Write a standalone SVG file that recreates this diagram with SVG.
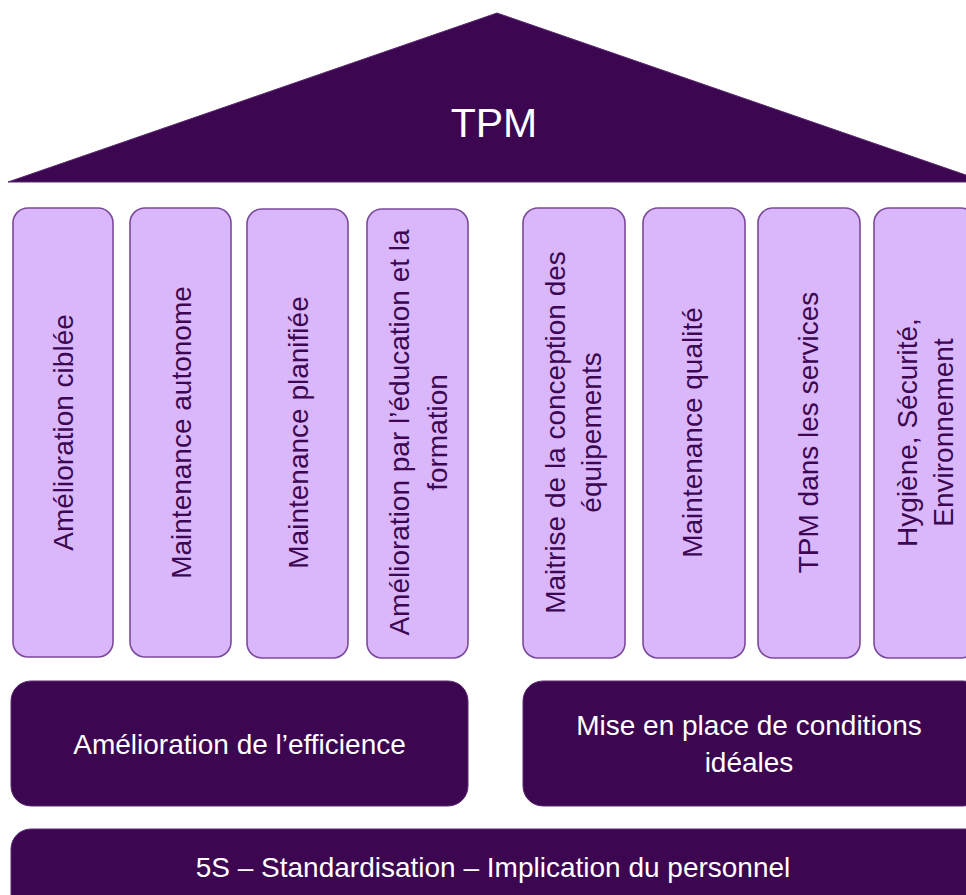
<svg xmlns="http://www.w3.org/2000/svg" width="966" height="895" viewBox="0 0 966 895">
<style>
.dark{fill:#3d0651;stroke:#5b2a72;stroke-width:1}
.pil{fill:#dab6fb;stroke:#7c4a9c;stroke-width:1.6}
.pt{font-family:"Liberation Sans",Arial,sans-serif;font-size:28px;fill:#3d0651;text-anchor:middle}
.wt{font-family:"Liberation Sans",Arial,sans-serif;font-size:28px;fill:#ffffff;text-anchor:middle}
</style>
<rect width="966" height="895" fill="#ffffff"/>
<g id="roof">
<polygon class="dark" points="8,182 497,13 986,182"/>
<text class="wt" x="494" y="137" style="font-size:41px">TPM</text>
</g>
<g id="p1">
<rect class="pil" x="13" y="208" width="100" height="449" rx="15"/>
<text class="pt" transform="translate(73,432.5) rotate(-90)">Amélioration ciblée</text>
</g>
<g id="p2">
<rect class="pil" x="130" y="208" width="101" height="449" rx="15"/>
<text class="pt" transform="translate(190.5,432.5) rotate(-90)">Maintenance autonome</text>
</g>
<g id="p3">
<rect class="pil" x="247" y="209" width="101" height="449" rx="15"/>
<text class="pt" transform="translate(307.5,432.5) rotate(-90)">Maintenance planifiée</text>
</g>
<g id="p4">
<rect class="pil" x="367" y="209" width="101" height="449" rx="15"/>
<text class="pt" transform="translate(409,432.5) rotate(-90)">Amélioration par l’éducation et la</text>
<text class="pt" transform="translate(447,432.5) rotate(-90)">formation</text>
</g>
<g id="p5">
<rect class="pil" x="523" y="208" width="102" height="450" rx="15"/>
<text class="pt" transform="translate(565,432.5) rotate(-90)">Maitrise de la conception des</text>
<text class="pt" transform="translate(601,432.5) rotate(-90)">équipements</text>
</g>
<g id="p6">
<rect class="pil" x="643" y="208" width="102" height="450" rx="15"/>
<text class="pt" transform="translate(702,432.5) rotate(-90)">Maintenance qualité</text>
</g>
<g id="p7">
<rect class="pil" x="758" y="208" width="102" height="450" rx="15"/>
<text class="pt" transform="translate(818,432.5) rotate(-90)">TPM dans les services</text>
</g>
<g id="p8">
<rect class="pil" x="874" y="208" width="102" height="450" rx="15"/>
<text class="pt" transform="translate(917,432.5) rotate(-90)">Hygiène, Sécurité,</text>
<text class="pt" transform="translate(953,432.5) rotate(-90)">Environnement</text>
</g>
<g id="b1">
<rect class="dark" x="11" y="681" width="457" height="125" rx="20"/>
<text class="wt" x="239.5" y="754">Amélioration de l’efficience</text>
</g>
<g id="b2">
<rect class="dark" x="523" y="681" width="460" height="125" rx="20"/>
<text class="wt" x="749" y="735">Mise en place de conditions</text>
<text class="wt" x="749" y="772">idéales</text>
</g>
<g id="b3">
<rect class="dark" x="11" y="829" width="975" height="90" rx="20"/>
<text class="wt" x="493" y="877">5S – Standardisation – Implication du personnel</text>
</g>
<g id="connectors"/>
</svg>
